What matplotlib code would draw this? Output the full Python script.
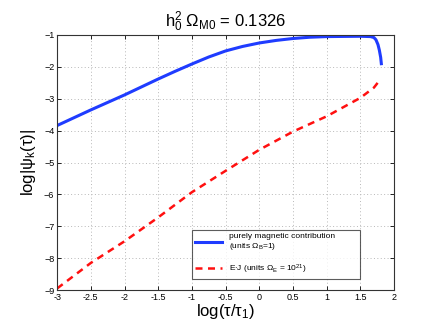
import matplotlib
matplotlib.use('Agg')
import matplotlib.pyplot as plt

plt.rcParams['font.family'] = ['Liberation Sans', 'DejaVu Sans']
plt.rcParams['mathtext.fontset'] = 'custom'
plt.rcParams['mathtext.rm'] = 'Liberation Sans'
plt.rcParams['mathtext.it'] = 'Liberation Sans'
plt.rcParams['mathtext.default'] = 'regular'

# valores
x_mag = [-3, -2.5, -2, -1.5, -1.25, -1, -0.75, -0.5, -0.25, 0, 0.25, 0.5,
         0.75, 1, 1.5, 1.65, 1.7, 1.73, 1.76, 1.78, 1.8, 1.81]
y_mag = [-3.84, -3.35, -2.88, -2.38, -2.14, -1.91, -1.69, -1.5, -1.36, -1.25,
         -1.17, -1.11, -1.07, -1.05, -1.04, -1.05, -1.08, -1.15, -1.3, -1.47,
         -1.7, -1.9]

x_ej = [-3, -2.5, -2, -1.5, -1, -0.5, 0, 0.5, 1, 1.5, 1.7, 1.8]
y_ej = [-8.95, -8.15, -7.47, -6.72, -5.93, -5.26, -4.6, -4.03, -3.55, -2.97,
        -2.65, -2.38]

xticks = [-3, -2.5, -2, -1.5, -1, -0.5, 0, 0.5, 1, 1.5, 2]
yticks = [-9, -8, -7, -6, -5, -4, -3, -2, -1]

fig = plt.figure(figsize=(4.36, 3.27), dpi=100)
ax = fig.add_axes([0.131, 0.113, 0.773, 0.78])

ax.plot(x_mag, y_mag, color='#1f3cff', lw=2.2,
        label='purely magnetic contribution\n(units $\\Omega_B$=1)')
ax.plot(x_ej, y_ej, color='#ff1010', lw=1.8, ls=(0, (2.8, 2.2)),
        label='E$\\cdot$J (units $\\Omega_E$ = 10$^{21}$)')

ax.set_xlim(-3, 2)
ax.set_ylim(-9, -1)
ax.set_xticks(xticks)
ax.set_xticklabels([f'{v:g}' for v in xticks])
ax.set_yticks(yticks)
ax.tick_params(direction='in', top=True, right=True, labelsize=6.5,
               length=3, width=0.6, pad=2)
ax.grid(True, ls=(0, (1, 2.5)), color='#b8b8b8', lw=0.7)
for s in ax.spines.values():
    s.set_linewidth(0.8)
    s.set_color('#333333')

ax.set_title('$h_0^2\\ \\Omega_{M0}$ = 0.1326', fontsize=12, pad=6)
ax.set_xlabel('log($\\tau/\\tau_1$)', fontsize=12, labelpad=0)
ax.set_ylabel('log|$\\psi_k(\\tau)$|', fontsize=12, labelpad=4)

leg = ax.legend(loc='lower left', bbox_to_anchor=(0.40, 0.043, 0.5, 0.227),
                mode='expand', fontsize=6, frameon=True, fancybox=False,
                handlelength=3.2, borderaxespad=0, labelspacing=1.2)
leg.get_frame().set_edgecolor('#333333')
leg.get_frame().set_linewidth(0.8)

fig.savefig('out.png', dpi=100)
